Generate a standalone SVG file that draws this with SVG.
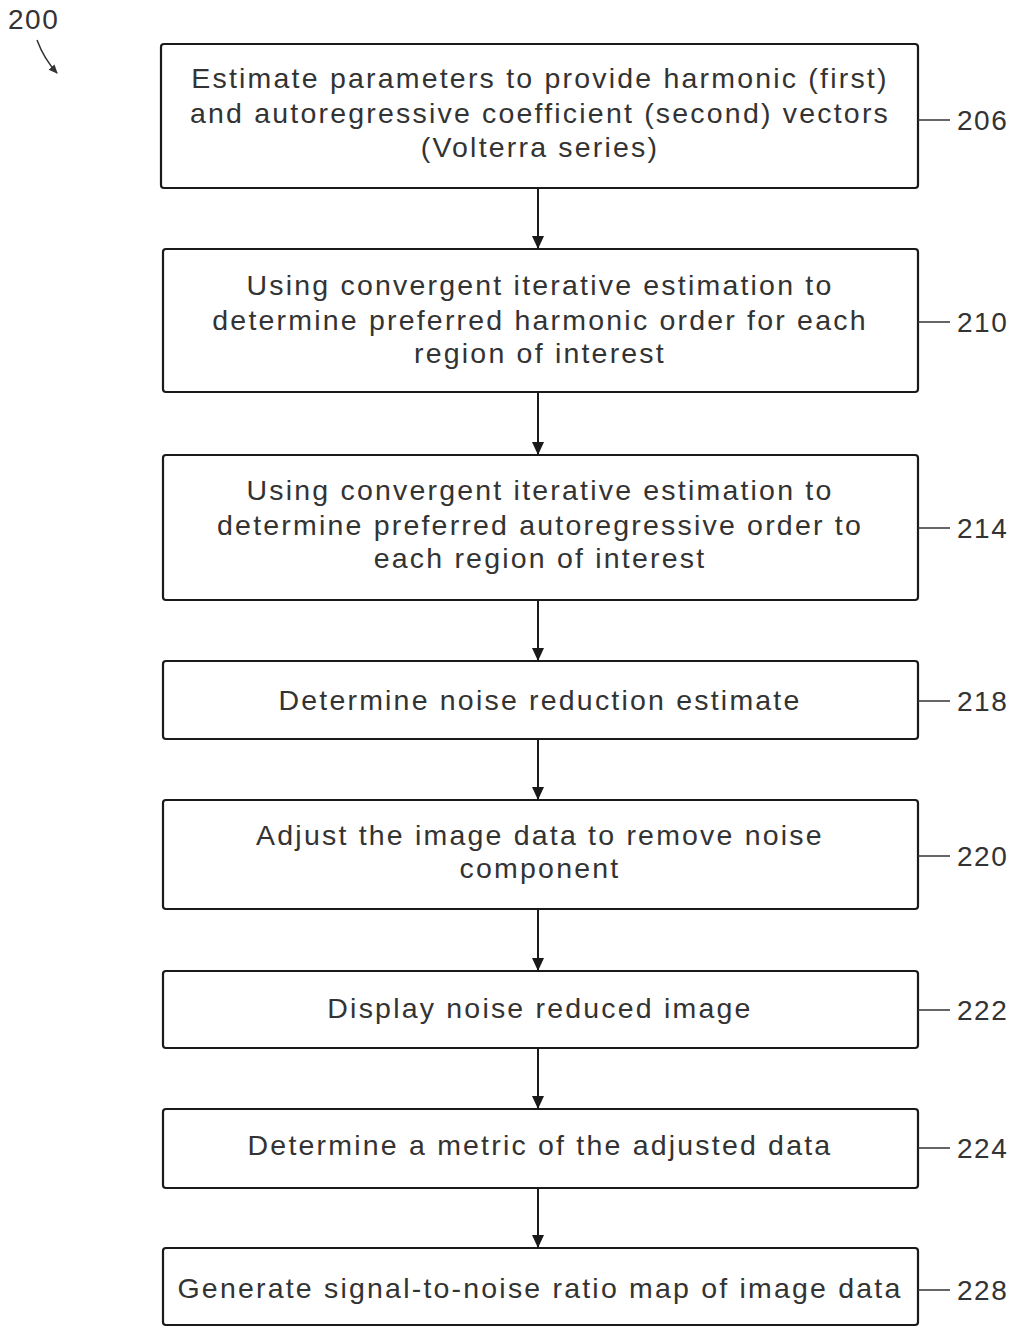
<svg xmlns="http://www.w3.org/2000/svg" width="1016" height="1327" viewBox="0 0 1016 1327">
<defs>
<style>
.box{fill:#fff;stroke:#1a1a1a;stroke-width:2.2}
.t{font-family:"Liberation Sans",Arial,sans-serif;font-size:28.5px;letter-spacing:2.2px;fill:#333;text-anchor:middle}
.ref{font-family:"Liberation Sans",Arial,sans-serif;font-size:28px;letter-spacing:1.5px;fill:#333}
.lead{stroke:#333;stroke-width:1.5;fill:none}
.conn{stroke:#1a1a1a;stroke-width:2;fill:none}
</style>
<marker id="ah" markerWidth="14" markerHeight="14" refX="13" refY="7" orient="auto" markerUnits="userSpaceOnUse">
<path d="M0,1 L13,7 L0,13 Z" fill="#1a1a1a"/>
</marker>
<marker id="ah2" markerWidth="10" markerHeight="10" refX="8" refY="5" orient="auto" markerUnits="userSpaceOnUse">
<path d="M0,1 L9,5 L0,9 Z" fill="#333"/>
</marker>
</defs>
<rect width="1016" height="1327" fill="#fff"/>
<g id="fig-label">
<text class="ref" x="8" y="29">200</text>
<path class="lead" d="M37,40 Q44,59 57,73" marker-end="url(#ah2)"/>
</g>
<g id="connectors">
<line class="conn" x1="538" y1="188" x2="538" y2="249" marker-end="url(#ah)"/>
<line class="conn" x1="538" y1="392" x2="538" y2="455" marker-end="url(#ah)"/>
<line class="conn" x1="538" y1="600" x2="538" y2="661" marker-end="url(#ah)"/>
<line class="conn" x1="538" y1="739" x2="538" y2="800" marker-end="url(#ah)"/>
<line class="conn" x1="538" y1="909" x2="538" y2="971" marker-end="url(#ah)"/>
<line class="conn" x1="538" y1="1048" x2="538" y2="1109" marker-end="url(#ah)"/>
<line class="conn" x1="538" y1="1188" x2="538" y2="1248" marker-end="url(#ah)"/>
</g>
<g id="n206">
<rect class="box" x="161" y="44" width="757" height="144" rx="3"/>
<text class="t" x="540" y="88">Estimate parameters to provide harmonic (first)</text>
<text class="t" x="540" y="123">and autoregressive coefficient (second) vectors</text>
<text class="t" x="540" y="157">(Volterra series)</text>
<line class="lead" x1="918" y1="120" x2="950" y2="120"/>
<text class="ref" x="957" y="130">206</text>
</g>
<g id="n210">
<rect class="box" x="163" y="249" width="755" height="143" rx="3"/>
<text class="t" x="540" y="295">Using convergent iterative estimation to</text>
<text class="t" x="540" y="330">determine preferred harmonic order for each</text>
<text class="t" x="540" y="363">region of interest</text>
<line class="lead" x1="918" y1="322" x2="950" y2="322"/>
<text class="ref" x="957" y="332">210</text>
</g>
<g id="n214">
<rect class="box" x="163" y="455" width="755" height="145" rx="3"/>
<text class="t" x="540" y="500">Using convergent iterative estimation to</text>
<text class="t" x="540" y="535">determine preferred autoregressive order to</text>
<text class="t" x="540" y="568">each region of interest</text>
<line class="lead" x1="918" y1="528" x2="950" y2="528"/>
<text class="ref" x="957" y="538">214</text>
</g>
<g id="n218">
<rect class="box" x="163" y="661" width="755" height="78" rx="3"/>
<text class="t" x="540" y="710">Determine noise reduction estimate</text>
<line class="lead" x1="918" y1="701" x2="950" y2="701"/>
<text class="ref" x="957" y="711">218</text>
</g>
<g id="n220">
<rect class="box" x="163" y="800" width="755" height="109" rx="3"/>
<text class="t" x="540" y="845">Adjust the image data to remove noise</text>
<text class="t" x="540" y="878">component</text>
<line class="lead" x1="918" y1="856" x2="950" y2="856"/>
<text class="ref" x="957" y="866">220</text>
</g>
<g id="n222">
<rect class="box" x="163" y="971" width="755" height="77" rx="3"/>
<text class="t" x="540" y="1018">Display noise reduced image</text>
<line class="lead" x1="918" y1="1010" x2="950" y2="1010"/>
<text class="ref" x="957" y="1020">222</text>
</g>
<g id="n224">
<rect class="box" x="163" y="1109" width="755" height="79" rx="3"/>
<text class="t" x="540" y="1155">Determine a metric of the adjusted data</text>
<line class="lead" x1="918" y1="1148" x2="950" y2="1148"/>
<text class="ref" x="957" y="1158">224</text>
</g>
<g id="n228">
<rect class="box" x="163" y="1248" width="755" height="77" rx="3"/>
<text class="t" x="540" y="1298">Generate signal-to-noise ratio map of image data</text>
<line class="lead" x1="918" y1="1290" x2="950" y2="1290"/>
<text class="ref" x="957" y="1300">228</text>
</g>
</svg>
